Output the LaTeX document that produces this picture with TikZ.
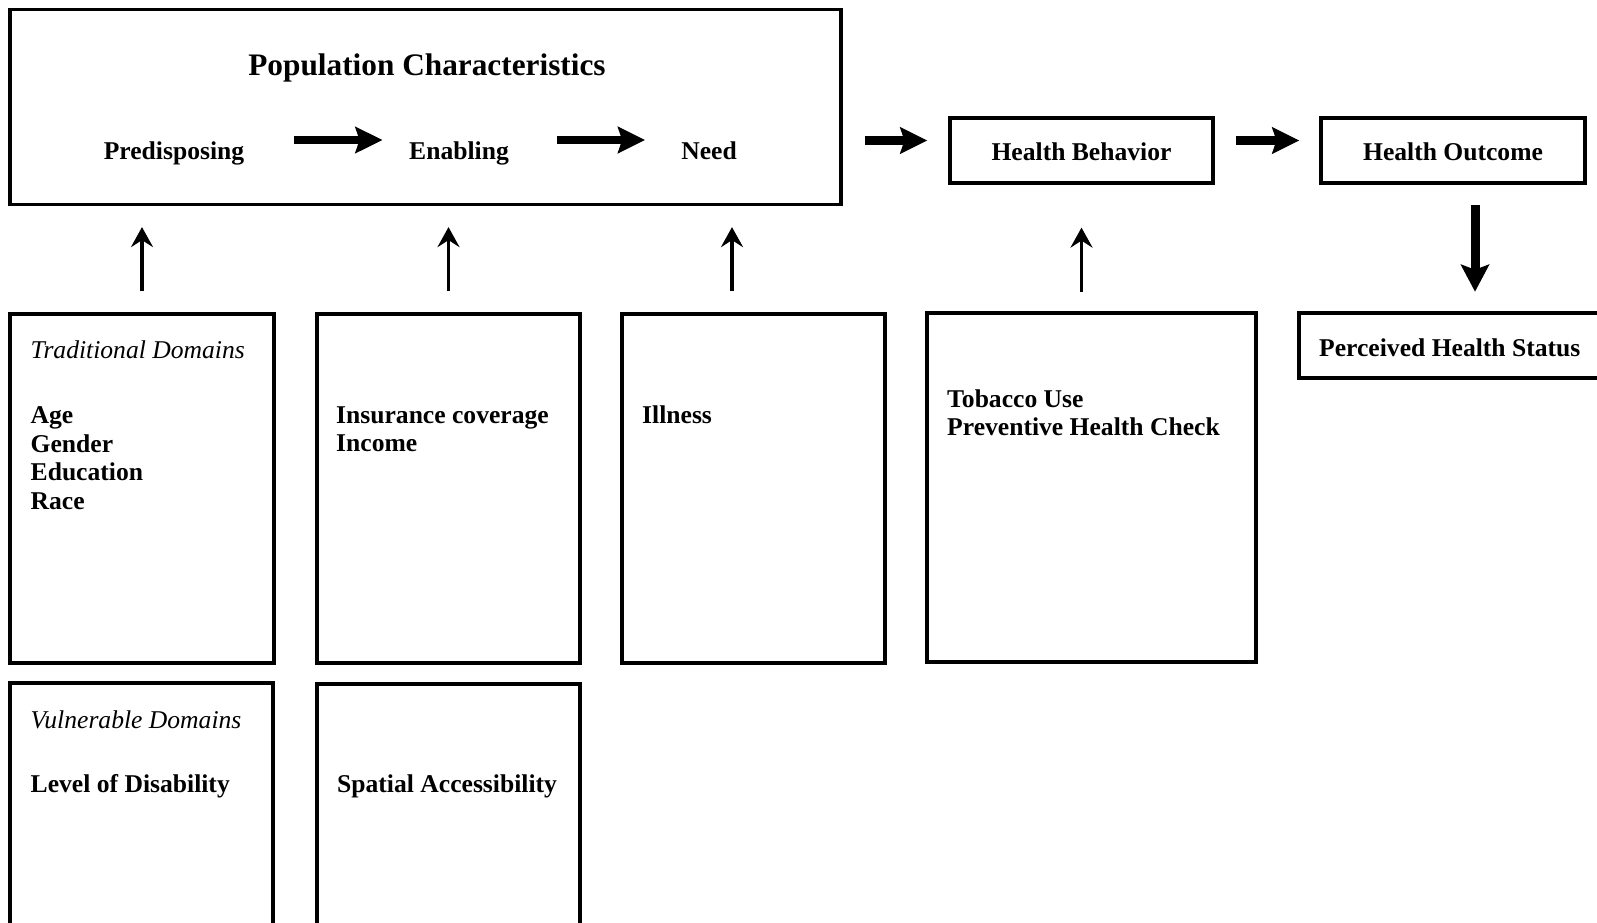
\documentclass[tikz,border=0pt]{standalone}
\usepackage{fontspec}
\setmainfont{Liberation Serif}
\usetikzlibrary{arrows.meta}

\begin{document}
\begin{tikzpicture}[x=1pt, y=-1pt,
  box/.style={draw, line width=3.2pt, inner sep=0pt},
  lbl/.style={inner sep=0pt, font=\fontsize{25.6}{28.5}\selectfont\bfseries},
  itlbl/.style={inner sep=0pt, font=\fontsize{25.6}{28.5}\selectfont\itshape},
  bigarr/.style={line width=8.3pt, -{Stealth[length=27pt, width=26pt, inset=4pt]}},
  uparr/.style={line width=3.3pt, -{Stealth[length=20pt, width=22pt, inset=7pt]}, shorten <=21pt}]
  \useasboundingbox (0,0) rectangle (1597,922);
  \clip (0,0) rectangle (1597,922);

  % top row
  \node[box, minimum width=831pt, minimum height=195pt] (popbox) at (425.5,107) {};
  \node[lbl, font=\fontsize{31.3}{34}\selectfont\bfseries, anchor=base] (title) at (427,75) {Population Characteristics};
  \node[lbl, anchor=base] (pre) at (174,159) {Predisposing};
  \node[lbl, anchor=base] (en) at (459,159) {Enabling};
  \node[lbl, anchor=base] (need) at (709,159) {Need};
  \draw[bigarr, shorten <=49.5pt, shorten >=26.5pt] ([yshift=19pt]pre.base east) -- ([yshift=19pt]en.base west);
  \draw[bigarr, shorten <=47.5pt, shorten >=36pt] ([yshift=19pt]en.base east) -- ([yshift=19pt]need.base west);

  \node[box, minimum width=263pt, minimum height=65pt] (behav) at (1081.5,150.5) {};
  \node[lbl, anchor=base] (behavlbl) at (1081.5,160.5) {Health Behavior};
  \node[box, minimum width=264pt, minimum height=65pt] (outcome) at (1453,150.5) {};
  \node[lbl, anchor=base] (outcomelbl) at (1453,160.5) {Health Outcome};
  \draw[bigarr, shorten <=22pt, shorten >=21pt] ([yshift=10pt]behav.west -| popbox.east) -- ([yshift=10pt]behav.west);
  \draw[bigarr, shorten <=21pt, shorten >=20pt] ([yshift=10pt]behav.east) -- ([yshift=10pt]outcome.west);

  \node[box, minimum width=401pt, minimum height=65pt] (perceived) at (1499.5,345.5) {};
  \node[lbl, anchor=base west] (status) at (1319,356) {Perceived Health Status};
  \draw[bigarr, line width=9pt, -{Stealth[length=27pt, width=28pt, inset=5pt]}, shorten <=20.5pt, shorten >=19.7pt]
    ([xshift=22pt]outcome.south) -- ([xshift=22pt]outcome.south |- perceived.north);

  % domain boxes
  \node[box, minimum width=264pt, minimum height=349pt] (trad) at (142,488.5) {};
  \node[box, minimum width=263pt, minimum height=349pt] (insur) at (448.5,488.5) {};
  \node[box, minimum width=263pt, minimum height=349pt] (illness) at (753.5,488.5) {};
  \node[box, minimum width=329pt, minimum height=349pt] (tobacco) at (1091.5,487.5) {};
  \node[box, minimum width=263pt, minimum height=317pt] (vuln) at (141.5,841.5) {};
  \node[box, minimum width=263pt, minimum height=316pt] (spatial) at (448.5,842) {};

  \node[itlbl, anchor=base west] (tradlbl) at (30.5,358) {Traditional Domains};
  \node[lbl, align=left, anchor=north west] (tradvars) at (30.5,406.5) {Age\\Gender\\Education\\Race};
  \node[lbl, align=left, anchor=north west] (insurvars) at (336,406.5) {Insurance coverage\\Income};
  \node[lbl, anchor=north west] (illvars) at (642,405.5) {Illness};
  \node[lbl, align=left, anchor=north west] (tobvars) at (947,389.5) {Tobacco Use\\Preventive Health Check};
  \node[itlbl, anchor=base west] (vulnlbl) at (30.5,728.5) {Vulnerable Domains};
  \node[lbl, anchor=base west] (disab) at (30.5,792.5) {Level of Disability};
  \node[lbl, anchor=base west] (access) at (337,792.5) {Spatial Accessibility};

  % arrows into the top row
  \draw[uparr, shorten >=21pt] (trad.north) -- (trad.north |- popbox.south);
  \draw[uparr, shorten >=21pt] (insur.north) -- (insur.north |- popbox.south);
  \draw[uparr, shorten >=21pt] ([xshift=-21.5pt]illness.north) -- ([xshift=-21.5pt]illness.north |- popbox.south);
  \draw[uparr, shorten <=19.6pt, shorten >=43pt] (behav.south |- tobacco.north) -- (behav.south);
\end{tikzpicture}
\end{document}
